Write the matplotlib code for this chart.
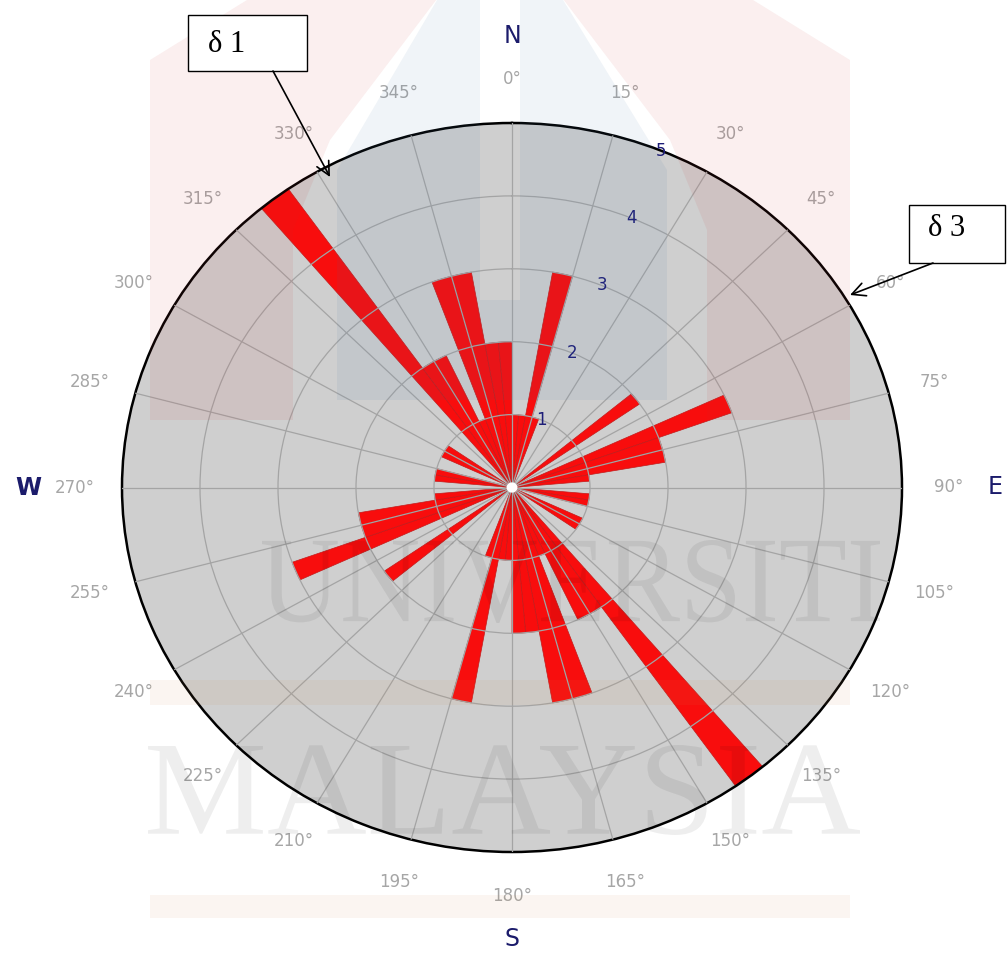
import numpy as np
import matplotlib
matplotlib.use("Agg")
import matplotlib.pyplot as plt
from matplotlib.patches import Polygon, Rectangle, PathPatch
from matplotlib.textpath import TextPath
from matplotlib.font_manager import FontProperties
from matplotlib.transforms import Affine2D

# rose diagram data: 5 degree bins (start angle) and counts per bin
bin_start = np.arange(0, 360, 5)
counts = [1, 1, 3, 1, 0, 0, 0, 0, 0, 0, 2, 0,
          0, 3, 2, 2, 1, 0, 0, 1, 1, 0, 0, 1,
          1, 0, 0, 0, 5, 2, 2, 1, 3, 3, 2, 2,
          1, 1, 3, 1, 0, 0, 0, 0, 0, 0, 2, 0,
          0, 3, 2, 2, 1, 0, 0, 1, 1, 0, 0, 1,
          1, 0, 0, 0, 5, 2, 2, 1, 3, 3, 2, 2]
angle_ticks = list(range(0, 360, 15))
ring_values = [1, 2, 3, 4, 5]
compass_names = ["N", "E", "S", "W"]
compass_angles = [0, 90, 180, 270]
note_labels = ["δ 1", "δ 3"]

W, H = 1008, 958
fig = plt.figure(figsize=(W / 100, H / 100), dpi=100)

# polar area (slightly wider than tall in the source picture)
x0, x1, y0, y1 = 122, 902, 123, 852
ax = fig.add_axes([x0 / W, 1 - y1 / H, (x1 - x0) / W, (y1 - y0) / H],
                  projection="polar", zorder=1)
ax.set_aspect("auto")
ax.set_theta_zero_location("N")
ax.set_theta_direction(-1)
ax.set_facecolor("#cfcfcf")

ax.bar(np.deg2rad(bin_start), counts, width=np.deg2rad(5), align="edge",
       color="#f80d0d", edgecolor="#c41a1a", linewidth=0.5, zorder=2)
ax.bar(0, 0.07, width=2 * np.pi, color="white", zorder=4)

ax.set_ylim(0, 5)
ax.set_yticks(ring_values[:-1])
ax.set_yticklabels([])
ax.set_xticks(np.deg2rad(angle_ticks))
ax.set_xticklabels([])
ax.grid(True, color="#a4a4a4", linewidth=0.9)
ax.set_axisbelow(False)
ax.spines["polar"].set_color("black")
ax.spines["polar"].set_linewidth(1.8)

for a in angle_ticks:
    ax.text(np.deg2rad(a), 5.6, f"{a}°", ha="center", va="center",
            fontsize=12, color="#a6a6a6")
for v in ring_values:
    ax.text(np.deg2rad(22.5), v, str(v), ha="center", va="center",
            fontsize=12, color="#1e1e78", zorder=6)
for name, a in zip(compass_names, compass_angles):
    ax.text(np.deg2rad(a), 6.2, name, ha="center", va="center",
            fontsize=17, color="#1b1b6b",
            fontweight="bold" if name == "W" else "normal")

# faint thesis watermark on top
ov = fig.add_axes([0, 0, 1, 1], zorder=5)
ov.set_xlim(0, W)
ov.set_ylim(H, 0)
ov.axis("off")

pink = (0.8, 0.2, 0.2)
blue = (0.25, 0.45, 0.65)
ov.add_patch(Polygon([(150, 420), (150, 60), (255, -5), (440, -5), (330, 140),
                      (293, 230), (293, 420)], color=pink, alpha=0.08, lw=0))
ov.add_patch(Polygon([(850, 420), (850, 60), (745, -5), (560, -5), (670, 140),
                      (707, 230), (707, 420)], color=pink, alpha=0.08, lw=0))
ov.add_patch(Polygon([(337, 400), (337, 170), (440, -5), (480, -5), (480, 300),
                      (520, 300), (520, -5), (560, -5), (667, 170), (667, 400)],
                     color=blue, alpha=0.08, lw=0))
ov.add_patch(Rectangle((150, 680), 700, 25, color=(0.8, 0.55, 0.3), alpha=0.08, lw=0))
ov.add_patch(Rectangle((150, 895), 700, 23, color=(0.8, 0.55, 0.3), alpha=0.08, lw=0))


def fit_text(axis, s, left, right, top, bottom, **kw):
    tp = TextPath((0, 0), s, size=100, prop=FontProperties(family="Liberation Serif"))
    ext = tp.get_extents()
    tr = (Affine2D().translate(-ext.x0, -ext.y0)
          .scale((right - left) / ext.width, -(bottom - top) / ext.height)
          .translate(left, bottom))
    axis.add_patch(PathPatch(tr.transform_path(tp), lw=0, **kw))


fit_text(ov, "UNIVERSITI", 262, 880, 540, 623, color="black", alpha=0.065)
fit_text(ov, "MALAYSIA", 148, 860, 745, 835, color="black", alpha=0.065)

# annotation boxes with arrows
fg = fig.add_axes([0, 0, 1, 1], zorder=10)
fg.set_xlim(0, W)
fg.set_ylim(H, 0)
fg.axis("off")

fg.add_patch(Rectangle((188, 15), 119, 56, facecolor="white", edgecolor="black", lw=1))
fg.text(208, 44, note_labels[0], fontsize=22, family="Liberation Serif",
        ha="left", va="center")
fg.annotate("", xy=(330, 177), xytext=(273, 71),
            arrowprops=dict(arrowstyle="->", color="black", lw=1.2,
                            mutation_scale=24, shrinkA=0, shrinkB=0))

fg.add_patch(Rectangle((909, 205), 96, 58, facecolor="white", edgecolor="black", lw=1))
fg.text(928, 228, note_labels[1], fontsize=22, family="Liberation Serif",
        ha="left", va="center")
fg.annotate("", xy=(850, 295), xytext=(933, 263),
            arrowprops=dict(arrowstyle="->", color="black", lw=1.2,
                            mutation_scale=24, shrinkA=0, shrinkB=0))

fig.savefig("out.png", dpi=100)
